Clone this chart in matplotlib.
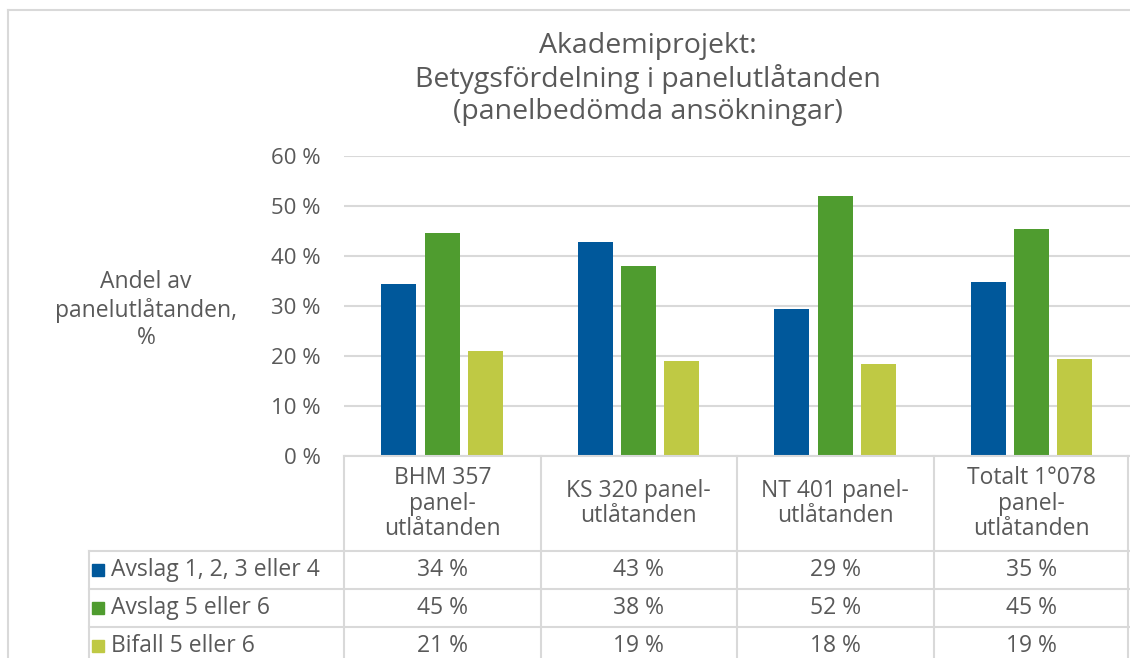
import matplotlib.pyplot as plt
import numpy as np

plt.rcParams['font.family'] = ['Open Sans', 'DejaVu Sans']

# data
categories = ["BHM 357\npanel-\nutlåtanden", "KS 320 panel-\nutlåtanden",
              "NT 401 panel-\nutlåtanden", "Totalt 1°078\npanel-\nutlåtanden"]
series_names = ["Avslag 1, 2, 3 eller 4", "Avslag 5 eller 6", "Bifall 5 eller 6"]
avslag_1_4 = [34.4, 42.9, 29.4, 34.9]
avslag_5_6 = [44.6, 38.0, 52.1, 45.4]
bifall_5_6 = [21.0, 19.0, 18.4, 19.4]
yticks = [0, 10, 20, 30, 40, 50, 60]

colors = ["#00589B", "#4F9C2F", "#BFC944"]
txt = "#595959"
grid = "#D9D9D9"

W, H = 1130, 658
fig = plt.figure(figsize=(W / 100, H / 100), dpi=100)

# plot area in pixels
left, right, top, bottom = 344, 1130, 156, 456
ax = fig.add_axes([left / W, (H - bottom) / H, (right - left) / W, (bottom - top) / H])

series = [avslag_1_4, avslag_5_6, bifall_5_6]
x = np.arange(len(categories))
offs = [-0.222, 0, 0.22]
for vals, off, c in zip(series, offs, colors):
    ax.bar(x + off, vals, width=0.178, color=c, zorder=3)

ax.set_xlim(-0.5, len(categories) - 0.5)
ax.set_ylim(0, 60)
ax.set_yticks(yticks)
ax.set_yticklabels([f"{t} %" for t in yticks], fontsize=16, color=txt)
ax.tick_params(axis='y', length=0, pad=17)
ax.set_xticks([])
for s in ax.spines.values():
    s.set_visible(False)
ax.yaxis.grid(True, color=grid, linewidth=1.5, zorder=0)

# overlay in pixel coords for table, title, frame
ov = fig.add_axes([0, 0, 1, 1], facecolor='none')
ov.set_xlim(0, W)
ov.set_ylim(H, 0)
ov.axis('off')

lw = 1.5
# outer chart frame
ov.plot([8, W], [10, 10], color=grid, lw=lw)
ov.plot([8, 8], [10, H], color=grid, lw=lw)

ts = 20.5
ov.text(648, 46, "Akademiprojekt:", ha='center', va='center', fontsize=ts, color=txt)
ov.text(648, 79, "Betygsfördelning i panelutlåtanden", ha='center', va='center', fontsize=ts, color=txt)
ov.text(648, 112, "(panelbedömda ansökningar)", ha='center', va='center', fontsize=ts, color=txt)

ov.text(146, 310, "Andel av\npanelutlåtanden,\n%", ha='center', va='center',
        fontsize=16.5, color=txt, linespacing=1.2)

# data table
colw = (right - left) / len(categories)
edges = [left + i * colw for i in range(len(categories) + 1)]
row_y = [456, 551, 589, 627, 665]
lab_x = 89
fs = 16.5

ov.plot([left, right], [row_y[0], row_y[0]], color=grid, lw=lw)
for yy in row_y[1:4]:
    ov.plot([lab_x, right], [yy, yy], color=grid, lw=lw)
for xx in edges[:-1]:
    ov.plot([xx, xx], [row_y[0], H], color=grid, lw=lw)
ov.plot([right - 2, right - 2], [row_y[0], H], color=grid, lw=lw)
ov.plot([lab_x, lab_x], [row_y[1], H], color=grid, lw=lw)

for i, cat in enumerate(categories):
    cx = (edges[i] + edges[i + 1]) / 2
    ov.text(cx, (row_y[0] + row_y[1]) / 2, cat, ha='center', va='center',
            fontsize=fs, color=txt, linespacing=1.07)

for r, (name, vals, c) in enumerate(zip(series_names, series, colors)):
    cy = (row_y[r + 1] + row_y[r + 2]) / 2
    ov.add_patch(plt.Rectangle((92, cy - 6), 12, 12, color=c))
    ov.text(111, cy, name, ha='left', va='center', fontsize=fs, color=txt)
    for i, v in enumerate(vals):
        cx = (edges[i] + edges[i + 1]) / 2
        ov.text(cx, cy, f"{v:.0f} %", ha='center', va='center', fontsize=fs, color=txt)

fig.savefig("out.png", dpi=100)
